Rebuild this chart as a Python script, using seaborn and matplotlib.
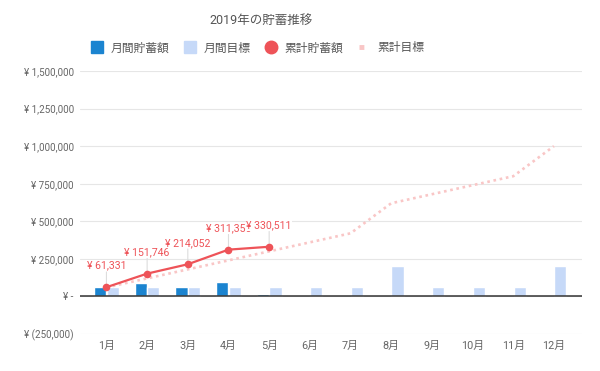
import numpy as np
import pandas as pd
import matplotlib
matplotlib.use("Agg")
import matplotlib.pyplot as plt
from matplotlib.lines import Line2D
import seaborn as sns

# ---------------- data ----------------
months = ["1月", "2月", "3月", "4月", "5月", "6月", "7月", "8月", "9月", "10月", "11月", "12月"]
monthly_savings = [61331, 90415, 62306, 97298, 19161, np.nan, np.nan, np.nan, np.nan, np.nan, np.nan, np.nan]
monthly_target = [60000, 60000, 60000, 60000, 60000, 60000, 60000, 200000, 60000, 60000, 60000, 200000]
cumulative_savings = [61331, 151746, 214052, 311350, 330511]
cumulative_target = [60000, 120000, 180000, 240000, 300000, 360000, 420000, 620000, 680000, 740000, 800000, 1000000]
series_names = ["月間貯蓄額", "月間目標", "累計貯蓄額", "累計目標"]
y_ticks = [-250000, 0, 250000, 500000, 750000, 1000000, 1250000, 1500000]
title = "2019年の貯蓄推移"

# ---------------- style ----------------
sns.set_theme(style="white")
plt.rcParams["font.family"] = ["Roboto", "Noto Sans CJK JP", "DejaVu Sans"]

BLUE = "#1b84d0"
LIGHT = "#c6d9f8"
RED = "#ee5358"
PINK = "#f9c6c6"
TXT = "#666666"

fig = plt.figure(figsize=(6, 3.71), dpi=100)
ax = fig.add_axes([80 / 600, 1 - 334 / 371, (582 - 80) / 600, (334 - 71) / 371])

df = pd.DataFrame({
    "month": months * 2,
    "series": [series_names[0]] * 12 + [series_names[1]] * 12,
    "value": list(monthly_savings) + list(monthly_target),
}).dropna()

sns.barplot(data=df, x="month", y="value", hue="series", order=months,
            hue_order=series_names[:2], palette=[BLUE, LIGHT], width=0.62,
            gap=0.04, saturation=1, legend=False, errorbar=None, ax=ax, zorder=2)

sns.lineplot(x=np.arange(len(cumulative_target)), y=cumulative_target, color=PINK,
             linewidth=1.9, linestyle=(0, (1, 1.4)), ax=ax, zorder=3)
sns.lineplot(x=np.arange(len(cumulative_savings)), y=cumulative_savings, color=RED,
             linewidth=1.6, marker="o", markersize=5.5, markeredgewidth=0, ax=ax, zorder=4)

for i, v in enumerate(cumulative_savings):
    ax.annotate("", xy=(i, v), xytext=(0, 11), textcoords="offset points",
                arrowprops=dict(arrowstyle="-", color="#dddddd", lw=0.8, shrinkA=0, shrinkB=0),
                zorder=1)
    ax.annotate(f"¥ {v:,}", xy=(i, v), xytext=(0, 15.5), textcoords="offset points",
                ha="center", va="center", color=RED, fontsize=7.6, zorder=5,
                bbox=dict(boxstyle="square,pad=0.05", fc="white", ec="none"))

ax.axhline(0, color="#333333", lw=1.1, zorder=2.5)

ax.set_ylim(-250000, 1500000)
ax.set_xlim(-0.65, 11.69)
ax.set_yticks(y_ticks)


def fmt(v, pos=None):
    if v > 0:
        return f"¥ {v:,.0f}"
    if v == 0:
        return "¥ -"
    return f"¥ ({-v:,.0f})"


ax.yaxis.set_major_formatter(matplotlib.ticker.FuncFormatter(fmt))
ax.yaxis.grid(True, color="#e6e6e6", lw=0.8, zorder=0)
ax.xaxis.grid(False)
ax.set_axisbelow(True)
for s in ax.spines.values():
    s.set_visible(False)
ax.set_xlabel("")
ax.set_ylabel("")
ax.tick_params(axis="y", length=0, pad=4.5, labelsize=7.1, labelcolor=TXT)
ax.tick_params(axis="x", length=0, pad=5, labelsize=7.8, labelcolor=TXT)

fig.text(261 / 600, 1 - 20 / 371, title, ha="center", va="center", fontsize=9, color="#555555")

handles = [
    Line2D([], [], marker="s", linestyle="none", markersize=9, color=BLUE),
    Line2D([], [], marker="s", linestyle="none", markersize=9, color=LIGHT),
    Line2D([], [], marker="o", linestyle="none", markersize=9, color=RED),
    Line2D([], [], linestyle=(0, (1, 1.5)), linewidth=3.5, color=PINK),
]
fig.legend(handles, series_names, loc="center", bbox_to_anchor=(258 / 600, 1 - 48 / 371),
           ncol=4, frameon=False, fontsize=8.5, handlelength=0.9, handletextpad=0.7,
           columnspacing=1.3, labelcolor="#555555")

fig.savefig("out.png", dpi=100)
